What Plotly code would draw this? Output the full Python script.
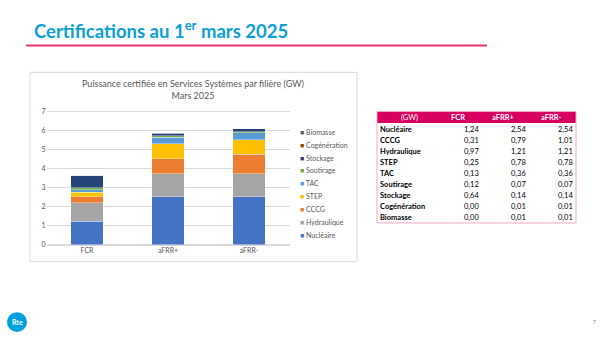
import plotly.graph_objects as go

W, H = 605, 337

categories = ["FCR", "aFRR+", "aFRR-"]
filieres = ["Nucléaire", "Hydraulique", "CCCG", "STEP", "TAC", "Soutirage", "Stockage", "Cogénération", "Biomasse"]
colors = ["#4472C4", "#A5A5A5", "#ED7D31", "#FFC000", "#5B9BD5", "#70AD47", "#264478", "#9E480E", "#636363"]
values = {
    "Nucléaire":    [1.24, 2.54, 2.54],
    "Hydraulique":  [0.97, 1.21, 1.21],
    "CCCG":         [0.31, 0.79, 1.01],
    "STEP":         [0.25, 0.78, 0.78],
    "TAC":          [0.13, 0.36, 0.36],
    "Soutirage":    [0.12, 0.07, 0.07],
    "Stockage":     [0.64, 0.14, 0.14],
    "Cogénération": [0.00, 0.01, 0.01],
    "Biomasse":     [0.00, 0.01, 0.01],
}
table_order = ["Nucléaire", "CCCG", "Hydraulique", "STEP", "TAC", "Soutirage", "Stockage", "Cogénération", "Biomasse"]
table_header = ["(GW)", "FCR", "aFRR+", "aFRR-"]
y_ticks = [0, 1, 2, 3, 4, 5, 6, 7]


def px(x):
    return x / W


def py(y):
    return 1 - y / H


fig = go.Figure()
for name, col in zip(filieres, colors):
    fig.add_trace(go.Bar(
        x=categories, y=values[name], name=name,
        marker=dict(color=col, line=dict(color="rgba(255,255,255,0.6)", width=0.6)),
        showlegend=False, xaxis="x", yaxis="y",
    ))

fmt = lambda v: f"{v:.2f}".replace(".", ",")

shapes = [
    # title underline
    dict(type="line", xref="paper", yref="paper", x0=px(26), x1=px(487), y0=py(46), y1=py(46),
         line=dict(color="#E8336F", width=2)),
    # chart box
    dict(type="rect", xref="paper", yref="paper", x0=px(30), x1=px(357), y0=py(264), y1=py(73),
         line=dict(color="#D9D9D9", width=1), layer="below"),
    # table header band
    dict(type="rect", xref="paper", yref="paper", x0=px(377), x1=px(576), y0=py(124), y1=py(112.5),
         fillcolor="#D8005F", line=dict(width=0)),
    # table border
    dict(type="rect", xref="paper", yref="paper", x0=px(377), x1=px(576), y0=py(225), y1=py(112.5),
         line=dict(color="#F2A7C3", width=1)),
    # logo
    dict(type="circle", xref="paper", yref="paper", x0=px(7), x1=px(27), y0=py(335), y1=py(315),
         fillcolor="#00A0DF", line=dict(width=0)),
]

annotations = [
    dict(text="<b>Certifications au 1<sup>er</sup> mars 2025</b>", x=px(32), y=py(30), xref="paper", yref="paper",
         xanchor="left", yanchor="middle", showarrow=False, font=dict(size=18.5, color="#0AA0D8", family="Lato")),
    dict(text="Puissance certifiée en Services Systèmes par filière (GW)<br>Mars 2025", x=px(193), y=py(90),
         xref="paper", yref="paper", xanchor="center", yanchor="middle", showarrow=False,
         font=dict(size=9, color="#595959", family="Lato")),
    dict(text="<b>Rte</b>", x=px(17), y=py(325), xref="paper", yref="paper", xanchor="center", yanchor="middle",
         showarrow=False, font=dict(size=7, color="white", family="Lato")),
    dict(text="7", x=px(594), y=py(325), xref="paper", yref="paper", xanchor="center", yanchor="middle",
         showarrow=False, font=dict(size=5, color="#808080", family="Lato")),
]
# legend (reversed stacking order)
for i, (name, col) in enumerate(zip(filieres[::-1], colors[::-1])):
    yy = 133 + i * 13
    annotations.append(dict(
        text="<span style='color:%s'>■</span> %s" % (col, name), x=px(298), y=py(yy), xref="paper", yref="paper",
        xanchor="left", yanchor="middle", showarrow=False, font=dict(size=7, color="#595959", family="Lato")))

# table texts
head_x = [409, 458, 503, 551]
for h, hx in zip(table_header, head_x):
    annotations.append(dict(
        text=h if h == "(GW)" else "<b>%s</b>" % h, x=px(hx), y=py(118.5), xref="paper", yref="paper",
        xanchor="center", yanchor="middle", showarrow=False, font=dict(size=7.5, color="white", family="Lato")))
num_x = [481, 528, 575]
for r, name in enumerate(table_order):
    yy = 130.5 + r * 11.1
    annotations.append(dict(
        text="<b>%s</b>" % name, x=px(378), y=py(yy), xref="paper", yref="paper",
        xanchor="left", yanchor="middle", showarrow=False, font=dict(size=7.5, color="black", family="Lato")))
    for c, nx in enumerate(num_x):
        annotations.append(dict(
            text=fmt(values[name][c]), x=px(nx), y=py(yy), xref="paper", yref="paper",
            xanchor="right", yanchor="middle", showarrow=False, font=dict(size=7.5, color="black", family="Lato")))

# y axis: 0 at 247 px, 7 at 113 px -> 19.14 px per unit; extend range slightly so 7 is inside
unit = (247 - 113) / 7
y_top = 7.3
fig.update_layout(
    width=W, height=H, margin=dict(l=0, r=0, t=0, b=0),
    paper_bgcolor="white", plot_bgcolor="white",
    barmode="stack", bargap=0.6,
    xaxis=dict(domain=[px(46.5), px(289.5)], showgrid=False, showline=False, ticks="",
               tickfont=dict(size=7, color="#595959", family="Lato"), anchor="y"),
    yaxis=dict(domain=[py(247), py(247 - y_top * unit)], range=[0, y_top], tickvals=y_ticks,
               ticktext=[str(t) for t in y_ticks],
               showgrid=True, gridcolor="#D9D9D9",
               gridwidth=1, zeroline=True, zerolinecolor="#D9D9D9", showline=False, ticks="",
               tickfont=dict(size=7, color="#595959", family="Lato"), anchor="x"),
    shapes=shapes, annotations=annotations,
    font=dict(family="Lato"),
)

fig.write_html("out.html")
